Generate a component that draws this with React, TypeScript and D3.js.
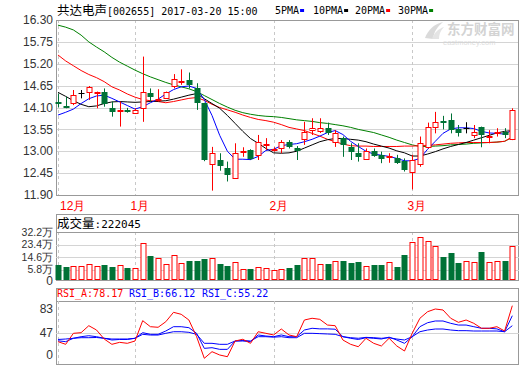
import * as d3 from 'd3'

// daily candles, 2016-12-19 .. 2017-03-20
const openP = [14.24, 14.13, 14.21, 14.46, 14.48, 14.47, 14.48, 14.08, 14.01, 14.03, 13.96, 14.10, 14.46, 14.29, 14.35, 14.64, 14.74, 14.79, 14.58, 14.21,
  12.68, 12.78, 12.57, 12.32, 12.97, 13.03, 12.91, 13.15, 13.04, 13.07, 13.24, 13.07, 13.30, 13.54, 13.52, 13.58, 13.24, 13.33, 13.11, 12.96,
  12.80, 13.01, 12.91, 12.85, 12.82, 12.75, 12.47, 12.68, 13.11, 13.62, 13.76, 13.79, 13.55, 13.58, 13.41, 13.62, 13.37, 13.46, 13.48, 13.30]
const highP = [14.45, 14.37, 14.54, 14.54, 14.64, 14.50, 14.58, 14.25, 14.25, 14.09, 14.08, 15.38, 14.58, 14.56, 14.50, 14.94, 15.06, 14.98, 14.71, 14.22,
  13.11, 12.95, 12.74, 13.20, 13.10, 13.05, 13.41, 13.33, 13.10, 13.28, 13.28, 13.13, 13.74, 13.83, 13.83, 13.72, 13.53, 13.37, 13.20, 13.20,
  13.07, 13.07, 12.99, 12.95, 12.91, 12.82, 12.91, 13.37, 13.72, 13.99, 13.89, 13.95, 13.66, 13.73, 13.66, 13.62, 13.53, 13.58, 13.58, 14.08]
const lowP = [14.10, 14.08, 14.16, 14.33, 14.29, 14.08, 14.12, 13.87, 13.62, 13.97, 13.95, 13.74, 14.25, 14.25, 14.35, 14.58, 14.67, 14.58, 14.04, 12.75,
  12.01, 12.51, 12.24, 12.32, 12.86, 12.78, 12.78, 13.03, 12.99, 12.95, 13.07, 12.78, 13.16, 13.41, 13.46, 13.41, 13.11, 12.86, 12.78, 12.74,
  12.78, 12.86, 12.70, 12.71, 12.68, 12.49, 12.04, 12.61, 13.07, 13.45, 13.55, 13.45, 13.37, 13.45, 13.33, 13.10, 13.20, 13.37, 13.33, 13.28]
const closeP = [14.21, 14.11, 14.41, 14.46, 14.61, 14.49, 14.18, 13.99, 14.03, 14.02, 14.04, 14.50, 14.37, 14.32, 14.50, 14.81, 14.76, 14.67, 14.21, 12.78,
  12.96, 12.63, 12.40, 12.96, 13.00, 12.81, 13.24, 13.17, 13.06, 13.24, 13.10, 13.01, 13.48, 13.59, 13.58, 13.47, 13.45, 13.16, 12.99, 12.86,
  13.01, 12.89, 12.80, 12.87, 12.71, 12.53, 12.78, 13.22, 13.60, 13.73, 13.72, 13.53, 13.47, 13.58, 13.49, 13.41, 13.39, 13.48, 13.41, 14.04]

// volume, 万手
const volume = [9.4, 7.4, 8.5, 8.5, 9.9, 8.7, 9.4, 8.0, 9.2, 6.9, 6.7, 24.2, 15.4, 14.1, 10.1, 16.1, 10.7, 11.6, 11.6, 13.4,
  14.1, 10.1, 8.7, 11.4, 6.0, 6.0, 7.8, 6.7, 5.4, 6.0, 6.9, 9.4, 13.9, 13.9, 9.9, 10.1, 12.1, 12.1, 10.7, 11.4,
  8.5, 9.4, 9.4, 11.2, 8.0, 16.1, 25.3, 28.6, 26.0, 22.6, 14.8, 17.4, 10.7, 12.1, 11.4, 18.3, 11.4, 12.1, 12.1, 22.2]

const ma5 = [13.91, 13.98, 14.06, 14.20, 14.32, 14.39, 14.41, 14.33, 14.24, 14.15, 14.06, 14.12, 14.22, 14.31, 14.44, 14.55, 14.62, 14.64, 14.58, 14.30,
  13.90, 13.40, 13.00, 12.80, 12.80, 12.79, 12.87, 13.02, 13.05, 13.14, 13.17, 13.19, 13.24, 13.30, 13.38, 13.47, 13.52, 13.42, 13.25, 13.12,
  13.00, 12.93, 12.90, 12.87, 12.82, 12.76, 12.76, 12.82, 13.05, 13.25, 13.45, 13.56, 13.59, 13.59, 13.57, 13.50, 13.46, 13.45, 13.43, 13.53]
const ma10 = [14.48, 14.38, 14.27, 14.18, 14.12, 14.14, 14.20, 14.24, 14.25, 14.24, 14.23, 14.24, 14.25, 14.26, 14.27, 14.31, 14.36, 14.41, 14.45, 14.32,
  14.20, 14.08, 13.90, 13.70, 13.50, 13.32, 13.20, 13.07, 12.96, 12.95, 12.96, 13.00, 13.08, 13.16, 13.24, 13.29, 13.32, 13.32, 13.30, 13.28,
  13.24, 13.18, 13.13, 13.08, 13.01, 12.96, 12.88, 12.88, 12.93, 12.99, 13.06, 13.12, 13.17, 13.22, 13.28, 13.34, 13.40, 13.46, 13.50, 13.52]
const ma20 = [15.42, 15.27, 15.15, 15.03, 14.93, 14.85, 14.75, 14.62, 14.54, 14.44, 14.36, 14.30, 14.27, 14.25, 14.22, 14.25, 14.29, 14.33, 14.35, 14.28,
  14.18, 14.10, 14.04, 13.98, 13.91, 13.85, 13.80, 13.77, 13.73, 13.67, 13.60, 13.56, 13.52, 13.45, 13.38, 13.30, 13.24, 13.18, 13.14, 13.13,
  13.13, 13.12, 13.12, 13.12, 13.12, 13.13, 13.13, 13.14, 13.15, 13.16, 13.18, 13.20, 13.21, 13.22, 13.22, 13.22, 13.22, 13.23, 13.25, 13.36]
const ma30 = [16.17, 16.12, 16.05, 15.92, 15.75, 15.62, 15.50, 15.36, 15.24, 15.14, 15.04, 14.95, 14.87, 14.80, 14.73, 14.67, 14.62, 14.57, 14.50, 14.40,
  14.30, 14.20, 14.11, 14.03, 13.97, 13.93, 13.90, 13.88, 13.87, 13.85, 13.82, 13.79, 13.77, 13.75, 13.72, 13.70, 13.67, 13.64, 13.60, 13.55,
  13.51, 13.47, 13.41, 13.35, 13.28, 13.22, 13.16, 13.12, 13.12, 13.13, 13.14, 13.16, 13.17, 13.18, 13.20, 13.21, 13.22, 13.23, 13.25, 13.35]

const rsiA = [33.7, 29.7, 46.3, 47.3, 57.8, 51.3, 37.7, 29.7, 32.7, 31.2, 34.7, 65.4, 56.3, 55.4, 63.8, 78.0, 75.0, 66.4, 41.2, 8.6,
  18.6, 13.6, 11.0, 34.7, 37.3, 31.2, 48.7, 46.3, 43.8, 52.8, 43.8, 41.2, 66.4, 69.0, 67.4, 58.8, 57.8, 36.2, 29.7, 26.1,
  38.8, 31.2, 27.2, 38.8, 27.2, 19.6, 46.3, 69.0, 78.9, 83.0, 81.5, 69.0, 62.9, 66.4, 61.4, 53.9, 53.9, 56.3, 49.8, 88.0]
const rsiB = [35.0, 33.7, 38.8, 41.2, 42.7, 41.2, 38.8, 36.2, 37.0, 37.0, 38.8, 47.3, 44.8, 44.8, 49.8, 56.3, 56.3, 54.8, 46.3, 23.6,
  24.6, 22.1, 22.1, 34.7, 34.7, 33.7, 43.8, 42.2, 41.2, 43.8, 41.2, 41.2, 51.3, 53.9, 53.0, 53.0, 52.5, 41.2, 38.8, 37.0,
  39.7, 38.8, 37.7, 40.5, 36.2, 31.2, 41.2, 56.3, 62.3, 64.9, 64.9, 61.4, 58.8, 58.8, 56.3, 53.9, 53.9, 53.0, 48.7, 72.9]
const rsiC = [37.0, 37.7, 38.8, 39.7, 39.7, 40.0, 38.8, 37.7, 37.7, 37.7, 38.8, 44.8, 43.7, 43.7, 46.3, 48.7, 48.7, 47.8, 44.8, 31.2,
  31.2, 29.7, 29.7, 34.7, 35.5, 34.7, 41.2, 41.2, 40.5, 41.2, 39.7, 39.7, 46.3, 46.3, 45.8, 45.3, 44.8, 41.2, 39.7, 38.8,
  40.2, 39.7, 38.8, 39.7, 37.7, 36.2, 41.2, 48.7, 51.3, 52.8, 52.8, 51.3, 50.3, 50.3, 49.8, 49.8, 49.8, 49.8, 48.7, 57.8]

const monthIdx = [0, 10, 28, 46]
const monthLabels = ['12月', '1月', '2月', '3月']
const priceTicks = [16.30, 15.75, 15.20, 14.65, 14.10, 13.55, 13.00, 12.45, 11.90]
const volTicks = [32.2, 23.4, 14.6, 5.8]
const volTickLabels = ['32.2万', '23.4万', '14.6万', '5.8万']
const rsiTicks = [83, 47, 0]
const maNames = ['5PMA', '10PMA', '20PMA', '30PMA']

const RED = '#ff0000'
const GREEN = '#007236'
const GRID = '#d4d4d4'
const BORDER = '#999'
const MA_COLORS = ['#0000ff', '#000000', '#ff0000', '#008000']
const SANS = 'Liberation Sans, Arial, sans-serif'
const MONO = 'DejaVu Sans Mono, monospace'
const CJK = 'Noto Sans CJK SC, sans-serif'

const L = 56, R = 519
const main = { top: 20, bottom: 195 }
const vol = { head: 214, top: 232, bottom: 280 }
const rsi = { head: 288, top: 301, bottom: 364 }

export default function App() {
  const n = closeP.length
  const x = d3.scalePoint<number>().domain(d3.range(n)).range([58, 512.3])
  const y = d3.scaleLinear().domain([11.90, 16.30]).range([main.bottom, main.top])
  const yv = d3.scaleLinear().domain([0, 32.2]).range([278, vol.top])
  const yr = d3.scaleLinear().domain([0, 83]).range([rsi.bottom, 309])
  const cx = (i: number) => Math.round(x(i)!) + 0.5

  const maLine = d3.line<number>().x((_, i) => x(i)!).y(d => y(d))
  const rsiLine = d3.line<number>().x((_, i) => x(i)!).y(d => yr(d))

  const dashed = (top: number, bottom: number) =>
    monthIdx.map(i => (
      <line key={`d${top}-${i}`} x1={cx(i)} x2={cx(i)} y1={top} y2={bottom} stroke="#c8c8c8" strokeDasharray="3,3" />
    ))

  return (
    <svg width={520} height={365} style={{ position: 'absolute', left: 0, top: 0, background: '#fff' }}>
      <defs>
        <clipPath id="mainClip"><rect x={L} y={main.top} width={R - L} height={main.bottom - main.top} /></clipPath>
        <clipPath id="rsiClip"><rect x={L} y={rsi.top} width={R - L} height={rsi.bottom - rsi.top} /></clipPath>
      </defs>

      {/* title + legend */}
      <text x={57} y={15} fontSize={12.5} fill="#000">
        <tspan fontFamily={CJK}>共达电声</tspan>
        <tspan fontFamily={MONO} fontSize={10}>[002655] 2017-03-20 15:00</tspan>
      </text>
      {maNames.map((m, k) => {
        const lx = [275, 313, 355, 398][k]
        const w = m.length * 6.02
        return (
          <g key={m}>
            <text x={lx} y={14} fontFamily={MONO} fontSize={10} fill="#000">{m}</text>
            <rect x={lx + w + 1} y={9} width={4} height={3} fill={MA_COLORS[k]} />
          </g>
        )
      })}

      {/* watermark */}
      <g opacity={0.55}>
        <path d="M425,38 C428,30 434,24 443,22 C437,27 434,32 433,39 Z" fill="#bdbdbd" />
        <path d="M432,39 C434,33 438,29 444,27 C440,31 439,35 439,39 Z" fill="#cfcfcf" />
        <text x={447} y={34} fontFamily={CJK} fontWeight="bold" fontSize={13.5} fill="#b0b0b0">东方财富网</text>
        <text x={443} y={45} fontFamily={SANS} fontSize={7.5} fill="#c4c4c4">eastmoney.com</text>
      </g>

      {/* main price panel */}
      {priceTicks.map(t => (
        <g key={t}>
          <line x1={L} x2={R} y1={Math.round(y(t)) + 0.5} y2={Math.round(y(t)) + 0.5} stroke={GRID} />
          <text x={53} y={y(t)} dy="0.35em" textAnchor="end" fontFamily={SANS} fontSize={12} fill="#333">{t.toFixed(2)}</text>
        </g>
      ))}
      {dashed(main.top, main.bottom)}
      <rect x={L + 0.5} y={main.top + 0.5} width={R - L - 1} height={main.bottom - main.top} fill="none" stroke={BORDER} />

      <g clipPath="url(#mainClip)">
        {[ma30, ma20, ma10, ma5].map((s, k) => (
          <path key={k} d={maLine(s)!} fill="none" stroke={MA_COLORS[3 - k]} strokeWidth={1} />
        ))}
      </g>

      {closeP.map((c, i) => {
        const o = openP[i]
        const px = cx(i)
        const top = Math.round(y(Math.max(o, c)))
        const bot = Math.max(Math.round(y(Math.min(o, c))), top + 1)
        const hi = y(highP[i]), lo = y(lowP[i])
        if (c === o) {
          return (
            <g key={i}>
              <line x1={px} x2={px} y1={hi} y2={lo} stroke="#000" />
              <line x1={px - 3} x2={px + 3} y1={top + 0.5} y2={top + 0.5} stroke="#000" />
            </g>
          )
        }
        if (c > o) {
          return (
            <g key={i}>
              <line x1={px} x2={px} y1={hi} y2={top} stroke={RED} />
              <line x1={px} x2={px} y1={bot} y2={lo} stroke={RED} />
              <rect x={px - 2.5} y={top + 0.5} width={5} height={bot - top} fill="#fff" stroke={RED} />
            </g>
          )
        }
        return (
          <g key={i}>
            <line x1={px} x2={px} y1={hi} y2={lo} stroke={GREEN} />
            <rect x={px - 3} y={top} width={6} height={Math.max(bot - top, 2)} fill={GREEN} />
          </g>
        )
      })}

      {/* month labels */}
      {monthIdx.map((i, k) => (
        <text key={i} x={Math.max(cx(i) - 5, 60)} y={210} fontFamily={SANS} fontSize={12} fill={RED}>{monthLabels[k]}</text>
      ))}

      {/* volume panel */}
      <rect x={L + 0.5} y={vol.head + 0.5} width={R - L - 1} height={vol.bottom - vol.head} fill="none" stroke={BORDER} />
      <text x={57} y={228} fontSize={12.5} fill="#000">
        <tspan fontFamily={CJK}>成交量</tspan>
        <tspan fontFamily={MONO} fontSize={11}>:222045</tspan>
      </text>
      {volTicks.map((t, k) => (
        <g key={t}>
          {k > 0 && <line x1={L} x2={R} y1={Math.round(yv(t)) + 0.5} y2={Math.round(yv(t)) + 0.5} stroke={GRID} />}
          <text x={53} y={yv(t)} dy="0.35em" textAnchor="end" fontFamily={SANS} fontSize={10.5} fill="#333">{volTickLabels[k]}</text>
        </g>
      ))}
      <text x={53} y={vol.bottom + 1} dy="0.35em" textAnchor="end" fontFamily={SANS} fontSize={12} fill="#333">0</text>
      {dashed(vol.top, vol.bottom)}
      <line x1={L} x2={R} y1={vol.top + 0.5} y2={vol.top + 0.5} stroke={BORDER} />
      {volume.map((v, i) => {
        const px = cx(i)
        const top = Math.round(yv(v))
        const up = closeP[i] >= openP[i]
        return up
          ? <rect key={i} x={px - 2.5} y={top + 0.5} width={5} height={vol.bottom - top - 1} fill="#fff" stroke={RED} />
          : <rect key={i} x={px - 3} y={top} width={6} height={vol.bottom - top} fill={GREEN} />
      })}

      {/* RSI panel */}
      <rect x={L + 0.5} y={rsi.head + 0.5} width={R - L - 1} height={rsi.bottom - rsi.head} fill="none" stroke={BORDER} />
      <line x1={L} x2={R} y1={rsi.top + 0.5} y2={rsi.top + 0.5} stroke={BORDER} />
      <text y={297} fontFamily={MONO} fontSize={10}>
        <tspan x={57} fill={RED}>RSI_A:78.17</tspan>
        <tspan x={129} fill="#0000ff">RSI_B:66.12</tspan>
        <tspan x={202} fill="#0000ff">RSI_C:55.22</tspan>
      </text>
      {rsiTicks.map(t => (
        <g key={t}>
          {t === 47 && <line x1={L} x2={R} y1={Math.round(yr(t)) + 0.5} y2={Math.round(yr(t)) + 0.5} stroke={GRID} />}
          <text x={53} y={Math.min(yr(t), 355)} dy="0.35em" textAnchor="end" fontFamily={SANS} fontSize={12} fill="#333">{t}</text>
        </g>
      ))}
      {dashed(rsi.top, rsi.bottom)}
      <g clipPath="url(#rsiClip)">
        <path d={rsiLine(rsiC)!} fill="none" stroke="#0000ff" />
        <path d={rsiLine(rsiB)!} fill="none" stroke="#0000ff" />
        <path d={rsiLine(rsiA)!} fill="none" stroke={RED} />
      </g>
    </svg>
  )
}
